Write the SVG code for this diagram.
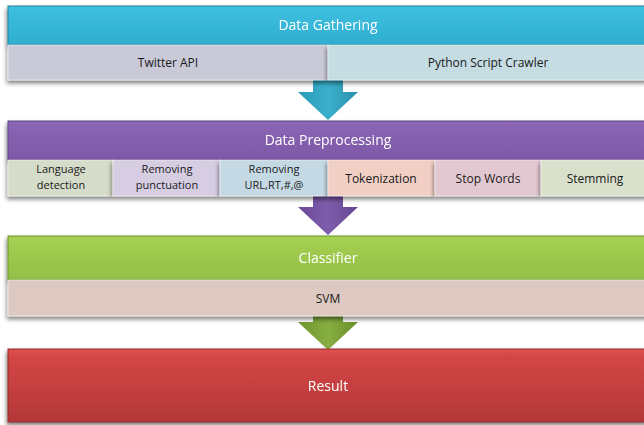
<svg xmlns="http://www.w3.org/2000/svg" width="644" height="425" viewBox="0 0 644 425">
<defs>
<filter id="sh" x="-5%" y="-20%" width="110%" height="160%">
<feGaussianBlur in="SourceAlpha" stdDeviation="2"/>
<feOffset dx="-1" dy="3"/>
<feComponentTransfer><feFuncA type="linear" slope="0.5"/></feComponentTransfer>
<feMerge><feMergeNode/><feMergeNode in="SourceGraphic"/></feMerge>
</filter>
<linearGradient id="gBlue" x1="0" y1="0" x2="0" y2="1"><stop offset="0" stop-color="#3fc0e0"/><stop offset="1" stop-color="#2eaed0"/></linearGradient>
<linearGradient id="gPurple" x1="0" y1="0" x2="0" y2="1"><stop offset="0" stop-color="#8c66b6"/><stop offset="1" stop-color="#7c58a6"/></linearGradient>
<linearGradient id="gGreen" x1="0" y1="0" x2="0" y2="1"><stop offset="0" stop-color="#a6d052"/><stop offset="1" stop-color="#92c046"/></linearGradient>
<linearGradient id="gRed" x1="0" y1="0" x2="0" y2="1"><stop offset="0" stop-color="#e05252"/><stop offset="0.1" stop-color="#d44646"/><stop offset="1" stop-color="#b43838"/></linearGradient>
<linearGradient id="aBlue" x1="0" y1="0" x2="1" y2="0"><stop offset="0" stop-color="#2a9ab8"/><stop offset="0.5" stop-color="#3ab0cc"/><stop offset="1" stop-color="#2a90ac"/></linearGradient>
<linearGradient id="aPurple" x1="0" y1="0" x2="1" y2="0"><stop offset="0" stop-color="#6a4a98"/><stop offset="0.5" stop-color="#7e5cac"/><stop offset="1" stop-color="#644690"/></linearGradient>
<linearGradient id="aGreen" x1="0" y1="0" x2="1" y2="0"><stop offset="0" stop-color="#6e9630"/><stop offset="0.5" stop-color="#86ae40"/><stop offset="1" stop-color="#6a902c"/></linearGradient>
</defs>
<style>
.hd{font-family:"Open Sans","Liberation Sans",sans-serif;font-size:14px;fill:#ffffff;text-anchor:middle}
.lb{font-family:"Open Sans","Liberation Sans",sans-serif;font-size:12px;fill:#1a1a1a;text-anchor:middle}
.l2{font-size:11px}
.cell{stroke:#ffffff;stroke-opacity:0.5;stroke-width:1}
</style>
<g id="connectors">
<path d="M313 80 H343 V92 H358 L328 120 L298 92 H313 Z" fill="url(#aBlue)"/>
<path d="M313 196 H343 V207 H358 L328 235 L298 207 H313 Z" fill="url(#aPurple)"/>
<path d="M313 316 H343 V322 H358 L328 350 L298 322 H313 Z" fill="url(#aGreen)"/>
</g>
<g id="data-gathering" filter="url(#sh)">
<rect x="8" y="6" width="640" height="39" fill="url(#gBlue)" stroke="#24809c" stroke-width="1"/>
<text class="hd" x="328" y="30">Data Gathering</text>
</g>
<g id="twitter-api">
<rect class="cell" x="8" y="45" width="320" height="35" fill="#c9c9d8" filter="url(#sh)"/>
<text class="lb" x="168" y="67">Twitter API</text>
</g>
<g id="python-crawler">
<rect class="cell" x="328" y="45" width="320" height="35" fill="#c4dce2" filter="url(#sh)"/>
<text class="lb" x="488" y="67">Python Script Crawler</text>
</g>
<g id="data-preprocessing" filter="url(#sh)">
<rect x="8" y="121" width="640" height="39" fill="url(#gPurple)" stroke="#5e4482" stroke-width="1"/>
<text class="hd" x="328" y="145">Data Preprocessing</text>
</g>
<g id="language-detection">
<rect class="cell" x="8" y="160" width="105" height="36" fill="#d5dcc9" filter="url(#sh)"/>
<text class="lb l2" x="61" y="173">Language</text>
<text class="lb l2" x="61" y="188.5">detection</text>
</g>
<g id="removing-punctuation">
<rect class="cell" x="113" y="160" width="107" height="36" fill="#d6cde2" filter="url(#sh)"/>
<text class="lb l2" x="167" y="173">Removing</text>
<text class="lb l2" x="167" y="188.5">punctuation</text>
</g>
<g id="removing-url">
<rect class="cell" x="220" y="160" width="108" height="36" fill="#c5d9e5" filter="url(#sh)"/>
<text class="lb l2" x="274" y="173">Removing</text>
<text class="lb l2" x="274" y="188.5">URL,RT,#,@</text>
</g>
<g id="tokenization">
<rect class="cell" x="328" y="160" width="107" height="36" fill="#f1cfc5" filter="url(#sh)"/>
<text class="lb" x="381" y="183">Tokenization</text>
</g>
<g id="stop-words">
<rect class="cell" x="435" y="160" width="106" height="36" fill="#e2c9d1" filter="url(#sh)"/>
<text class="lb" x="488" y="183">Stop Words</text>
</g>
<g id="stemming">
<rect class="cell" x="541" y="160" width="107" height="36" fill="#d9e1cd" filter="url(#sh)"/>
<text class="lb" x="595" y="183">Stemming</text>
</g>
<g id="classifier" filter="url(#sh)">
<rect x="8" y="236" width="640" height="44" fill="url(#gGreen)" stroke="#6e9430" stroke-width="1"/>
<text class="hd" x="328" y="263">Classifier</text>
</g>
<g id="svm">
<rect class="cell" x="8" y="280" width="640" height="36" fill="#ddc9c1" filter="url(#sh)"/>
<text class="lb" x="328" y="303">SVM</text>
</g>
<g id="result" filter="url(#sh)">
<rect x="8" y="349" width="640" height="73" fill="url(#gRed)" stroke="#8e2a2a" stroke-width="1"/>
<text class="hd" x="328" y="391">Result</text>
</g>
</svg>
